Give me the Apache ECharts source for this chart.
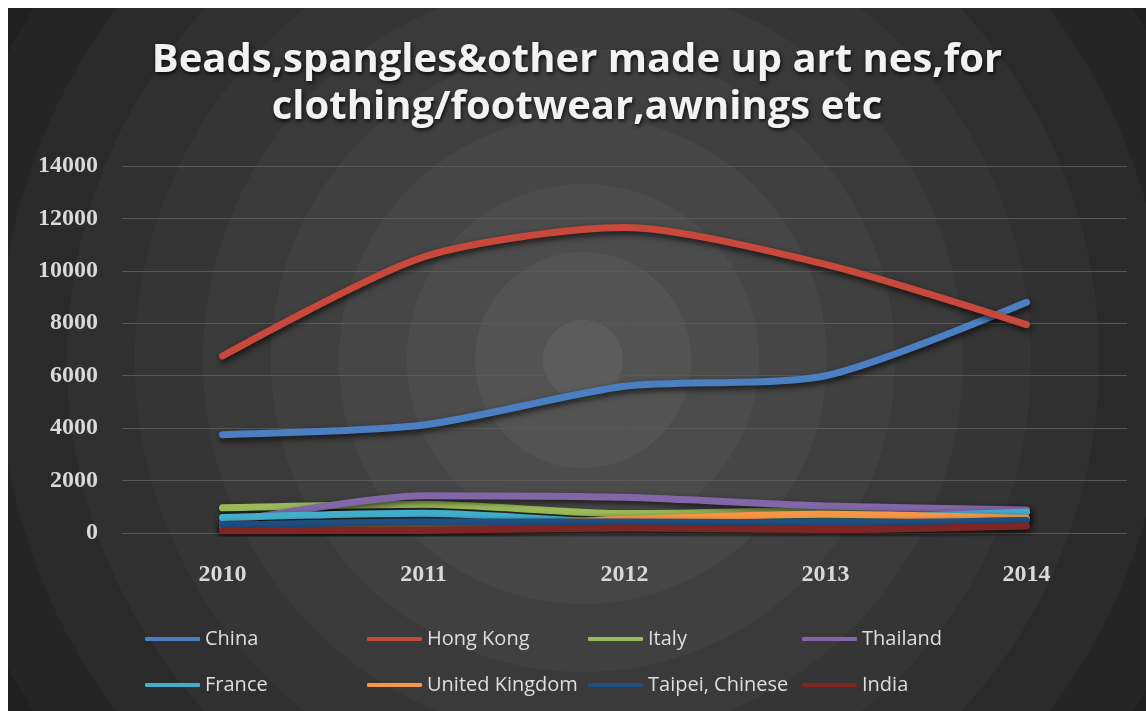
<!DOCTYPE html>
<html>
<head>
<meta charset="utf-8">
<script src="https://cdn.jsdelivr.net/npm/echarts@6/dist/echarts.min.js"></script>
<style>
  html, body { margin: 0; padding: 0; background: #ffffff; }
  #chart { position: absolute; left: 8px; top: 8px; width: 1138px; height: 703px; }
</style>
</head>
<body>
<div id="chart"></div>
<script>
// Import values by partner, 2010-2014
const years = ['2010', '2011', '2012', '2013', '2014'];
const china = [3750, 4120, 5600, 6000, 8800];
const hongKong = [6750, 10530, 11650, 10250, 7950];
const italy = [960, 1100, 740, 850, 800];
const thailand = [380, 1420, 1360, 1030, 880];
const france = [590, 750, 420, 530, 800];
const unitedKingdom = [250, 180, 520, 720, 560];
const taipei = [300, 420, 420, 380, 480];
const india = [90, 100, 190, 130, 270];

const seriesDefs = [
  { name: 'China', data: china, color: '#4a7fc1' },
  { name: 'Hong Kong', data: hongKong, color: '#c9483c' },
  { name: 'Italy', data: italy, color: '#9bbb59' },
  { name: 'Thailand', data: thailand, color: '#8266a8' },
  { name: 'France', data: france, color: '#42aecb' },
  { name: 'United Kingdom', data: unitedKingdom, color: '#f79646' },
  { name: 'Taipei, Chinese', data: taipei, color: '#1f4e7f' },
  { name: 'India', data: india, color: '#7e2623' }
];

// legend grid: 4 columns x 2 rows
const legendCols = [137, 359, 580, 794];
const legendRows = [621, 667];

const chart = echarts.init(document.getElementById('chart'), null, { renderer: 'canvas' });

// concentric banded background
const bandColors = ['#5c5c5c', '#535353', '#4c4c4c', '#464646', '#404040', '#3a3a3a',
                    '#353535', '#303030', '#2a2a2a', '#252525', '#202020'];
const bandRadius = 720;
const bandStops = [];
bandColors.forEach((c, i) => {
  const r0 = i === 0 ? 0 : (40 + 68 * (i - 1)) / bandRadius;
  const r1 = Math.min(1, (40 + 68 * i) / bandRadius);
  bandStops.push({ offset: r0, color: c });
  bandStops.push({ offset: r1, color: c });
});

const option = {
  animation: false,
  backgroundColor: {
    type: 'radial', x: 575, y: 352, r: bandRadius, global: true,
    colorStops: bandStops
  },
  title: {
    text: 'Beads,spangles&other made up art nes,for\nclothing/footwear,awnings etc',
    left: 'center',
    top: 24,
    textStyle: {
      fontFamily: 'Open Sans',
      fontWeight: 'bold',
      fontSize: 40,
      lineHeight: 47,
      color: '#f2f2f2',
      textShadowColor: 'rgba(0,0,0,0.85)',
      textShadowBlur: 4,
      textShadowOffsetX: 1,
      textShadowOffsetY: 2
    }
  },
  legend: seriesDefs.map((s, i) => ({
    data: [s.name],
    left: legendCols[i % 4],
    top: legendRows[Math.floor(i / 4)],
    icon: 'roundRect',
    itemWidth: 55,
    itemHeight: 4,
    padding: 0,
    selectedMode: false,
    textStyle: { fontFamily: 'Open Sans', fontSize: 20, color: '#dedede' }
  })),
  grid: { left: 114, top: 158, width: 1005, height: 367 },
  xAxis: {
    type: 'category',
    data: years,
    boundaryGap: true,
    axisLine: { show: false },
    axisTick: { show: false },
    axisLabel: {
      margin: 30,
      fontFamily: 'Liberation Serif',
      fontWeight: 'bold',
      fontSize: 24,
      color: '#d9d9d9'
    }
  },
  yAxis: {
    type: 'value',
    min: 0,
    max: 14000,
    interval: 2000,
    axisLine: { show: false },
    axisTick: { show: false },
    splitLine: { lineStyle: { color: '#595959', width: 1 } },
    axisLabel: {
      margin: 24,
      formatter: v => String(v),
      fontFamily: 'Liberation Serif',
      fontWeight: 'bold',
      fontSize: 24,
      color: '#d9d9d9'
    }
  },
  series: seriesDefs.map(s => ({
    name: s.name,
    type: 'line',
    data: s.data,
    smooth: 0.25,
    showSymbol: false,
    symbol: 'none',
    itemStyle: { color: s.color },
    lineStyle: {
      color: s.color,
      width: 7,
      cap: 'round',
      join: 'round',
      shadowColor: 'rgba(0,0,0,0.7)',
      shadowBlur: 6,
      shadowOffsetX: 1,
      shadowOffsetY: 3
    }
  }))
};

chart.setOption(option);
</script>
</body>
</html>
